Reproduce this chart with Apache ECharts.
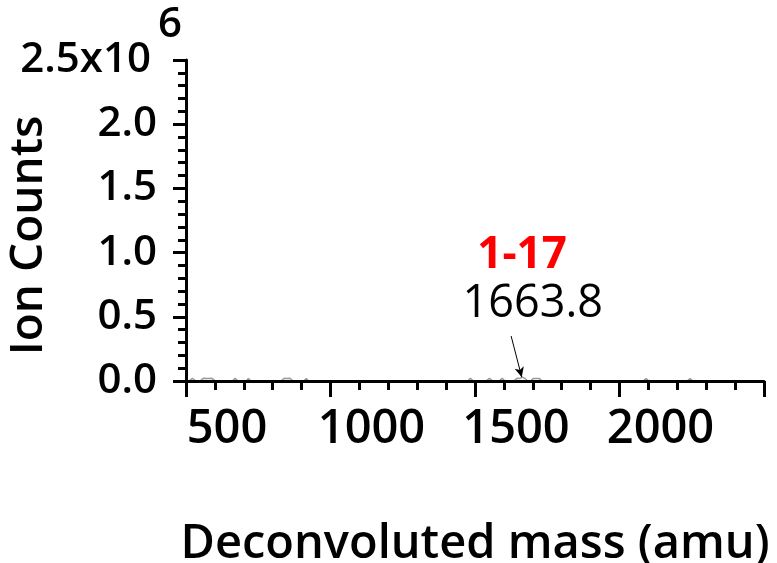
<!DOCTYPE html>
<html>
<head>
<meta charset="utf-8">
<script src="https://cdn.jsdelivr.net/npm/echarts@6/dist/echarts.min.js"></script>
<style>
html,body{margin:0;padding:0;background:#fff;}
#c{width:777px;height:563px;}
</style>
</head>
<body>
<div id="c"></div>
<script>
// ---- data ----
const masses = [500, 510, 522, 534, 548, 560, 575, 590, 602, 660, 670, 680, 708, 716, 724, 828, 840, 850, 860, 870, 908, 916, 924, 1474, 1484, 1494, 1538, 1550, 1562, 1584, 1594, 1604, 1634, 1645, 1655, 1663.8, 1672, 1682, 1692, 1702, 1712, 1722, 1732, 2082, 2092, 2102, 2234, 2244, 2254, 2500];
const counts = [0, 0, 20000, 0, 0, 21000, 19000, 21000, 0, 0, 20000, 0, 0, 20000, 0, 0, 21000, 19000, 21000, 0, 0, 20000, 0, 0, 20000, 0, 0, 20000, 0, 0, 20000, 0, 0, 21000, 20000, 30000, 21000, 0, 0, 20000, 19000, 20000, 0, 0, 19000, 0, 0, 19000, 0, 0];
const xTicks = [500, 1000, 1500, 2000];
const yTickLabels = ['0.0', '0.5', '1.0', '1.5', '2.0', '2.5x10'];
const yExponent = '6';
const peakName = '1-17';
const peakMass = 1663.8;
const peakLabel = '1663.8';

const FONT = '"Open Sans", "Noto Sans", sans-serif';
const chart = echarts.init(document.getElementById('c'), null, {renderer: 'canvas'});

const option = {
  backgroundColor: '#fff',
  animation: false,
  grid: {left: 186, right: 13, top: 60, bottom: 182, containLabel: false, outerBoundsMode: 'none'},
  xAxis: {
    type: 'value', min: 500, max: 2500, interval: 500, z: 10,
    name: 'Deconvoluted mass (amu)', nameLocation: 'middle', nameGap: 140, nameMoveOverlap: false,
    nameTextStyle: {fontFamily: FONT, fontSize: 47, fontWeight: 600, color: '#000'},
    axisLine: {show: true, onZero: false, lineStyle: {color: '#000', width: 3}},
    axisTick: {show: true, inside: false, length: 16, lineStyle: {color: '#000', width: 3}},
    minorTick: {show: true, splitNumber: 5, length: 9, lineStyle: {color: '#000', width: 3}},
    splitLine: {show: false},
    axisLabel: {
      show: true, margin: 25, hideOverlap: false, showMaxLabel: true, showMinLabel: true,
      fontFamily: FONT, fontSize: 47, fontWeight: 600, color: '#000',
      padding: [0, 0, 0, 82],
      formatter: v => xTicks.indexOf(v) >= 0 ? String(v) : ''
    }
  },
  yAxis: {
    type: 'value', min: 0, max: 2500000, interval: 500000, z: 10,
    name: 'Ion Counts', nameLocation: 'middle', nameRotate: 90, nameGap: 134, nameMoveOverlap: false,
    nameTextStyle: {fontFamily: FONT, fontSize: 46, fontWeight: 600, color: '#000', padding: [0, 30, 0, 0]},
    axisLine: {show: true, onZero: false, lineStyle: {color: '#000', width: 3}},
    axisTick: {show: true, inside: false, length: 13, lineStyle: {color: '#000', width: 3}},
    minorTick: {show: true, splitNumber: 5, length: 8, lineStyle: {color: '#000', width: 3}},
    splitLine: {show: false},
    axisLabel: {
      show: true, margin: 4, hideOverlap: false, showMaxLabel: true,
      fontFamily: FONT, fontSize: 42, fontWeight: 600, color: '#000',
      formatter: (v) => {
        const i = Math.round(v / 500000);
        if (i === yTickLabels.length - 1) return '{a|' + yTickLabels[i] + '}{b|' + yExponent + '}';
        return '{n|' + yTickLabels[i] + '}';
      },
      rich: {
        n: {fontFamily: FONT, fontSize: 42, fontWeight: 600, color: '#000', padding: [0, 25, 0, 0]},
        a: {fontFamily: FONT, fontSize: 42, fontWeight: 600, color: '#000', padding: [35, 7, 35, 0]},
        b: {fontFamily: FONT, fontSize: 42, fontWeight: 600, color: '#000', padding: [0, 0, 70, 0], verticalAlign: 'top'}
      }
    }
  },
  series: [{
    type: 'line', z: 1, showSymbol: false, symbol: 'none',
    data: masses.map((m, i) => [m, counts[i]]),
    lineStyle: {color: '#9a9a9a', width: 1.5},
    markLine: {
      silent: true, symbol: ['none', 'arrow'], symbolSize: [7, 10],
      lineStyle: {color: '#000', width: 1, type: 'solid'},
      label: {show: false},
      data: [[{coord: [1625, 350000]}, {coord: [peakMass - 2, 30000]}]]
    },
    markPoint: {
      silent: true, symbol: 'circle', symbolSize: 0,
      data: [
        {coord: [1663, 980000], label: {show: true, position: 'inside', formatter: peakName, fontFamily: FONT, fontSize: 44, fontWeight: 700, color: '#ff0000'}},
        {coord: [1700, 595000], label: {show: true, position: 'inside', formatter: peakLabel, fontFamily: FONT, fontSize: 45, fontWeight: 400, color: '#000'}}
      ]
    }
  }]
};
chart.setOption(option);
</script>
</body>
</html>
